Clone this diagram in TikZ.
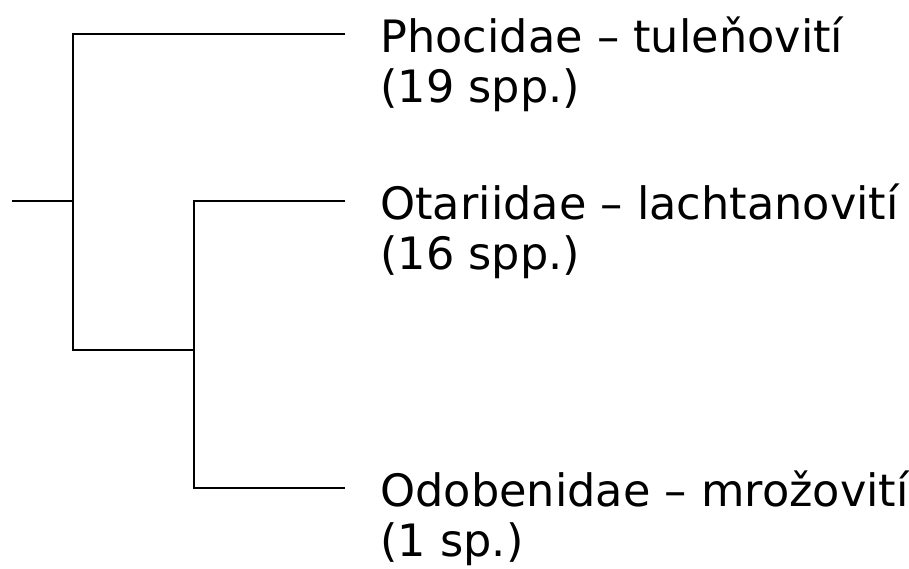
\documentclass[tikz,border=0pt]{standalone}
\usepackage{fontspec}
\setmainfont{DejaVu Sans}
\usetikzlibrary{positioning}

\begin{document}
\begin{tikzpicture}[x=0.5pt,y=-0.5pt,
	branch/.style={black,line width=1pt},
	taxon/.style={anchor=north west,inner sep=0pt,align=left,
		font=\fontsize{22.3}{25}\selectfont}]
	\useasboundingbox (0,0) rectangle (909,568);
	
	\coordinate (root) at (12,201);
	\coordinate (n1) at (73,201);
	\coordinate (n2) at (194,350);
	\coordinate (pho) at (345,34);
	\coordinate (ota) at (345,201);
	\coordinate (odo) at (345,488);
	
	\draw[branch](root)--(n1);
	\draw[branch](pho)-|(n1)|-(n2);
	\draw[branch](ota)-|(n2)|-(odo);
	
	\node[taxon] (phoT) at (380,16){Phocidae – tuleňovití\\(19 spp.)};
	\node[taxon] (otaT) at (380,183){Otariidae – lachtanovití\\(16 spp.)};
	\node[taxon] (odoT) at (380,470){Odobenidae – mrožovití\\(1 sp.)};
\end{tikzpicture}
\end{document}
